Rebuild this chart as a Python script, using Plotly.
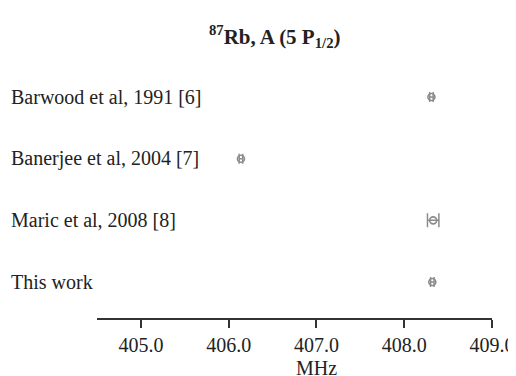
import plotly.graph_objects as go

labels = ["Barwood et al, 1991 [6]", "Banerjee et al, 2004 [7]", "Maric et al, 2008 [8]", "This work"]
values = [408.31, 406.14, 408.33, 408.32]
errors = [0.02, 0.02, 0.065, 0.02]
ypos = [4, 3, 2, 1]
tick_vals = [405.0, 406.0, 407.0, 408.0, 409.0]
tick_text = ["405.0", "406.0", "407.0", "408.0", "409.0"]
x_title = "MHz"

font_family = "Liberation Serif, Times New Roman, serif"
gray = "#8c8c8c"
txt = "#222222"

fig = go.Figure()
for i in range(len(values)):
    fig.add_trace(go.Scatter(
        x=[values[i]], y=[ypos[i]], mode="markers",
        marker=dict(symbol="circle-open", size=7, color=gray, line=dict(width=1.6, color=gray)),
        error_x=dict(type="data", array=[errors[i]], visible=True, color=gray,
                     thickness=1.5, width=5 if errors[i] < 0.05 else 7),
        showlegend=False, hoverinfo="skip"))

# page body adds an 8 px offset; margins are set so the plot lands where it should
OFF = 8
W, H = 516, 376
L, R, T, B = 97 - OFF, W - 492 + OFF, 60 - OFF, H - 318 + OFF
pw = W - L - R
ph = H - T - B
for lab, y in zip(labels, ypos):
    fig.add_annotation(text=lab, x=(10 - OFF - L) / pw, xref="paper", y=y, yref="y",
                       xanchor="left", yanchor="middle", showarrow=False, borderpad=0,
                       font=dict(family=font_family, size=20, color=txt))

fig.add_annotation(text="<b><sup>87</sup>Rb, A (5 P<sub>1/2</sub>)</b>",
                   x=(274 - OFF - L) / pw, xref="paper", y=1 + (T - (36 - OFF)) / ph, yref="paper",
                   xanchor="center", yanchor="middle", showarrow=False, borderpad=0,
                   font=dict(family=font_family, size=21, color=txt))

fig.add_annotation(text=x_title, x=(316 - OFF - L) / pw, xref="paper",
                   y=-(368 - 318) / ph, yref="paper",
                   xanchor="center", yanchor="middle", showarrow=False, borderpad=0,
                   font=dict(family=font_family, size=20, color=txt))

fig.update_layout(
    width=W, height=H, margin=dict(l=L, r=R, t=T, b=B, autoexpand=False),
    paper_bgcolor="white", plot_bgcolor="white",
    font=dict(family=font_family, color=txt),
    xaxis=dict(range=[404.5, 409.0], tickvals=tick_vals, ticktext=tick_text, automargin=False,
               showgrid=False, zeroline=False, showline=True, linecolor="#333", linewidth=1.5,
               ticks="outside", ticklen=8, tickwidth=1.5, tickcolor="#333",
               tickfont=dict(size=20, family=font_family, color=txt)),
    yaxis=dict(range=[0.417, 4.6], visible=False, showgrid=False, zeroline=False),
)

fig.write_html("out.html")
